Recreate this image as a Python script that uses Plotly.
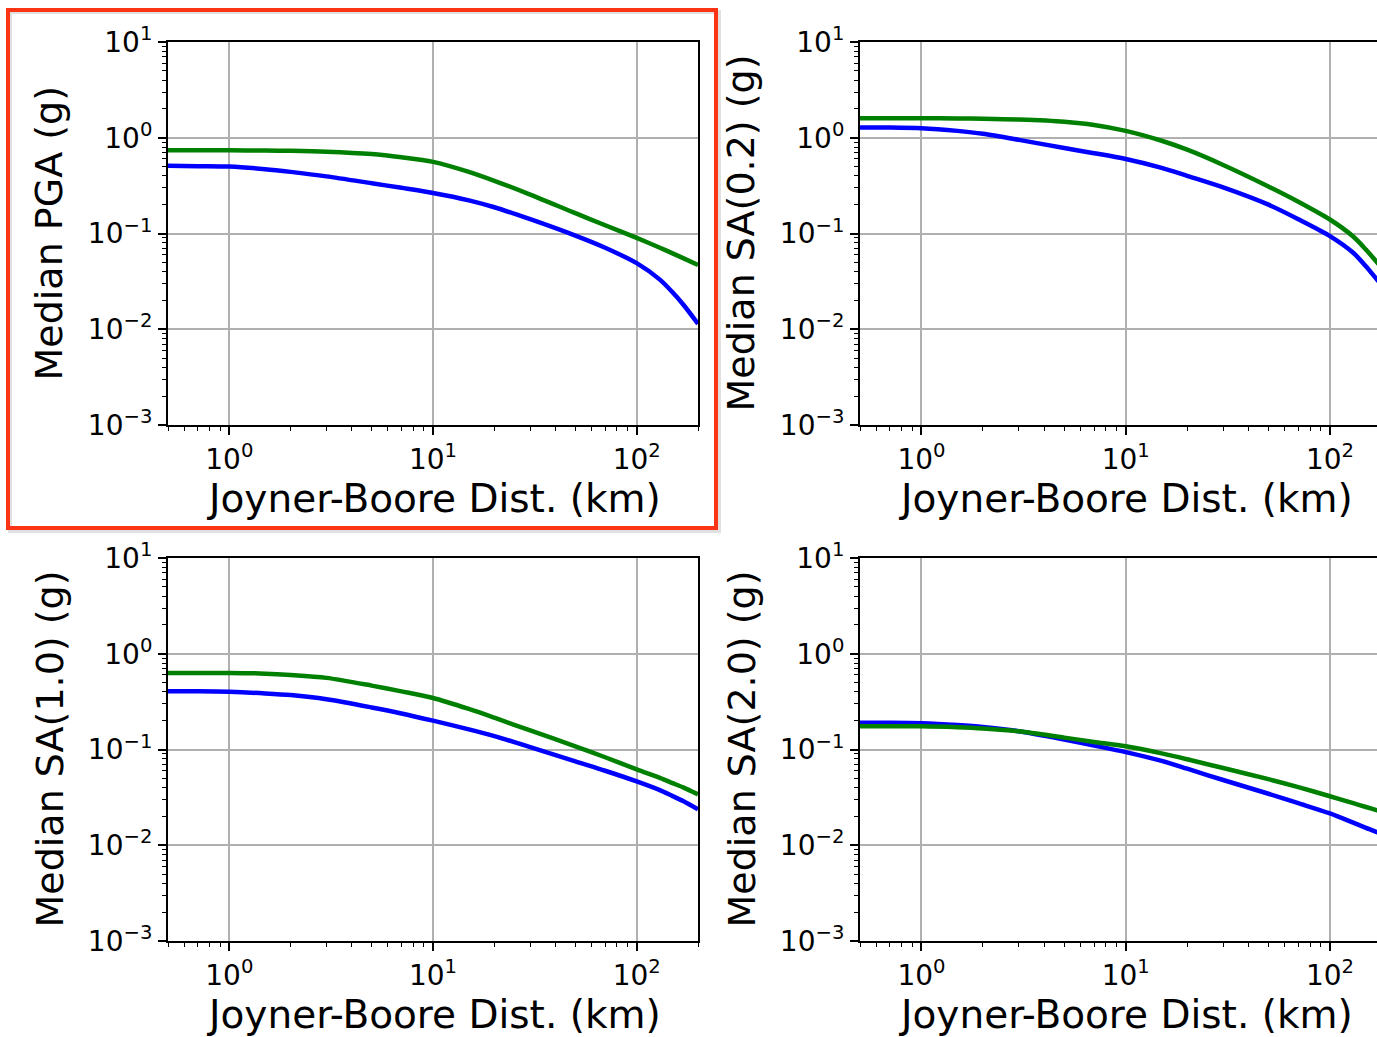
import plotly.graph_objects as go

W, H = 1377, 1037

# ---------------- data ----------------
dist_km = [0.5, 0.7, 1, 1.5, 2, 3, 5, 7, 10, 15, 20, 30, 50, 70, 100, 130, 150, 170, 200]

pga_green = [0.74, 0.74, 0.74, 0.735, 0.73, 0.715, 0.675, 0.625, 0.56, 0.44, 0.355, 0.255, 0.163, 0.122, 0.090, 0.071, 0.062, 0.055, 0.047]
pga_blue = [0.51, 0.505, 0.50, 0.47, 0.44, 0.395, 0.335, 0.30, 0.265, 0.222, 0.188, 0.141, 0.095, 0.071, 0.049, 0.033, 0.0243, 0.0179, 0.0114]

sa02_green = [1.60, 1.60, 1.60, 1.59, 1.58, 1.55, 1.47, 1.36, 1.18, 0.93, 0.75, 0.52, 0.31, 0.215, 0.14, 0.093, 0.068, 0.050, 0.033]
sa02_blue = [1.28, 1.28, 1.26, 1.18, 1.10, 0.95, 0.78, 0.69, 0.60, 0.485, 0.40, 0.303, 0.200, 0.141, 0.094, 0.063, 0.0455, 0.033, 0.022]

sa10_green = [0.63, 0.63, 0.63, 0.62, 0.60, 0.56, 0.465, 0.405, 0.345, 0.265, 0.215, 0.158, 0.108, 0.083, 0.062, 0.0505, 0.0446, 0.040, 0.034]
sa10_blue = [0.405, 0.405, 0.40, 0.385, 0.37, 0.335, 0.275, 0.238, 0.20, 0.162, 0.138, 0.106, 0.075, 0.06, 0.0464, 0.0376, 0.0326, 0.0288, 0.0237]

sa20_green = [0.175, 0.175, 0.175, 0.171, 0.166, 0.155, 0.133, 0.12, 0.108, 0.091, 0.079, 0.064, 0.049, 0.0405, 0.0325, 0.0275, 0.0251, 0.0232, 0.0208]
sa20_blue = [0.19, 0.19, 0.188, 0.18, 0.172, 0.155, 0.127, 0.11, 0.094, 0.076, 0.063, 0.048, 0.0345, 0.0275, 0.0215, 0.0172, 0.0152, 0.0137, 0.0117]

y_labels = ["Median PGA (g)", "Median SA(0.2) (g)", "Median SA(1.0) (g)", "Median SA(2.0) (g)"]
x_label = "Joyner-Boore Dist. (km)"

x_tick_vals = [1, 10, 100]
x_tick_text = ["10<sup>0</sup>", "10<sup>1</sup>", "10<sup>2</sup>"]
y_tick_vals = [0.001, 0.01, 0.1, 1, 10]
y_tick_text = ["10<sup>\u22123</sup>", "10<sup>\u22122</sup>", "10<sup>\u22121</sup>", "10<sup>0</sup>", "10<sup>1</sup>"]

x_minor = [k * 10 ** e for e in (-1, 0, 1, 2) for k in range(2, 10)]
y_minor = [k * 10 ** e for e in (-3, -2, -1, 0) for k in range(2, 10)]

GREEN = "#008000"
BLUE = "#0000FF"
FONT = "DejaVu Sans"

# panel pixel boxes: (left, right, top, bottom, xmax_log)
panels = [
    (168, 698, 42, 425, 2.30103),
    (860, 1377, 42, 425, 2.2305),
    (168, 698, 558, 941, 2.30103),
    (860, 1377, 558, 941, 2.2305),
]
series = [
    (pga_green, pga_blue),
    (sa02_green, sa02_blue),
    (sa10_green, sa10_blue),
    (sa20_green, sa20_blue),
]

fig = go.Figure()
layout = dict(
    width=W, height=H, autosize=False,
    margin=dict(l=0, r=0, t=0, b=0, pad=0),
    paper_bgcolor="white", plot_bgcolor="white",
    showlegend=False,
    font=dict(family=FONT, color="black"),
)
annotations = []
for i, ((l, r, t, b, xmax), (g, bl)) in enumerate(zip(panels, series)):
    n = i + 1
    xa = "x" if n == 1 else f"x{n}"
    ya = "y" if n == 1 else f"y{n}"
    fig.add_trace(go.Scatter(x=dist_km, y=bl, mode="lines", xaxis=xa, yaxis=ya,
                             line=dict(color=BLUE, width=4.5, shape="spline", smoothing=0.8)))
    fig.add_trace(go.Scatter(x=dist_km, y=g, mode="lines", xaxis=xa, yaxis=ya,
                             line=dict(color=GREEN, width=4.5, shape="spline", smoothing=0.8)))
    right_col = (i % 2 == 1)
    xkey = "xaxis" if n == 1 else f"xaxis{n}"
    ykey = "yaxis" if n == 1 else f"yaxis{n}"
    layout[xkey] = dict(
        type="log", range=[-0.30103, xmax],
        domain=[l / W, r / W], anchor=ya, automargin=False,
        showline=True, linecolor="black", linewidth=2, mirror=True,
        showgrid=True, gridcolor="#b0b0b0", gridwidth=1.5,
        zeroline=False,
        tickmode="array", tickvals=x_tick_vals, ticktext=x_tick_text,
        ticks="outside", ticklen=8, tickwidth=1.5, tickcolor="black",
        tickfont=dict(family=FONT, size=28, color="black"),
        minor=dict(tickmode="array", tickvals=x_minor, ticks="outside", ticklen=4,
                   tickwidth=1.2, tickcolor="black", showgrid=False),
    )
    layout[ykey] = dict(
        type="log", range=[-3, 1],
        domain=[1 - b / H, 1 - t / H], anchor=xa, automargin=False,
        showline=True, linecolor="black", linewidth=2, mirror=(not right_col),
        showgrid=True, gridcolor="#b0b0b0", gridwidth=1.5,
        zeroline=False,
        tickmode="array", tickvals=y_tick_vals, ticktext=y_tick_text,
        ticks="outside", ticklen=8, tickwidth=1.5, tickcolor="black",
        tickfont=dict(family=FONT, size=28, color="black"),
        minor=dict(tickmode="array", tickvals=y_minor, ticks="outside", ticklen=4,
                   tickwidth=1.2, tickcolor="black", showgrid=False),
    )
    # axis titles
    annotations.append(dict(
        text=x_label, xref="paper", yref="paper",
        x=(l + 265) / W, y=1 - (b + 73) / H, xanchor="center", yanchor="middle",
        showarrow=False, font=dict(family=FONT, size=39, color="black"),
    ))
    annotations.append(dict(
        text=y_labels[i], xref="paper", yref="paper",
        x=(l - 119) / W, y=1 - ((t + b) / 2) / H,
        xanchor="center", yanchor="middle", textangle=-90,
        showarrow=False, font=dict(family=FONT, size=38, color="black"),
    ))
layout["annotations"] = annotations
layout["shapes"] = [
    dict(type="rect", xref="paper", yref="paper",
         x0=10 / W, x1=719 / W, y0=1 - 531 / H, y1=1 - 12 / H,
         line=dict(color="rgba(0,0,0,0.12)", width=4), layer="above"),
    dict(type="rect", xref="paper", yref="paper",
         x0=8 / W, x1=716 / W, y0=1 - 528 / H, y1=1 - 10 / H,
         line=dict(color="#FA3414", width=4), layer="above"),
]
fig.update_layout(**layout)
fig.write_html("out.html")
